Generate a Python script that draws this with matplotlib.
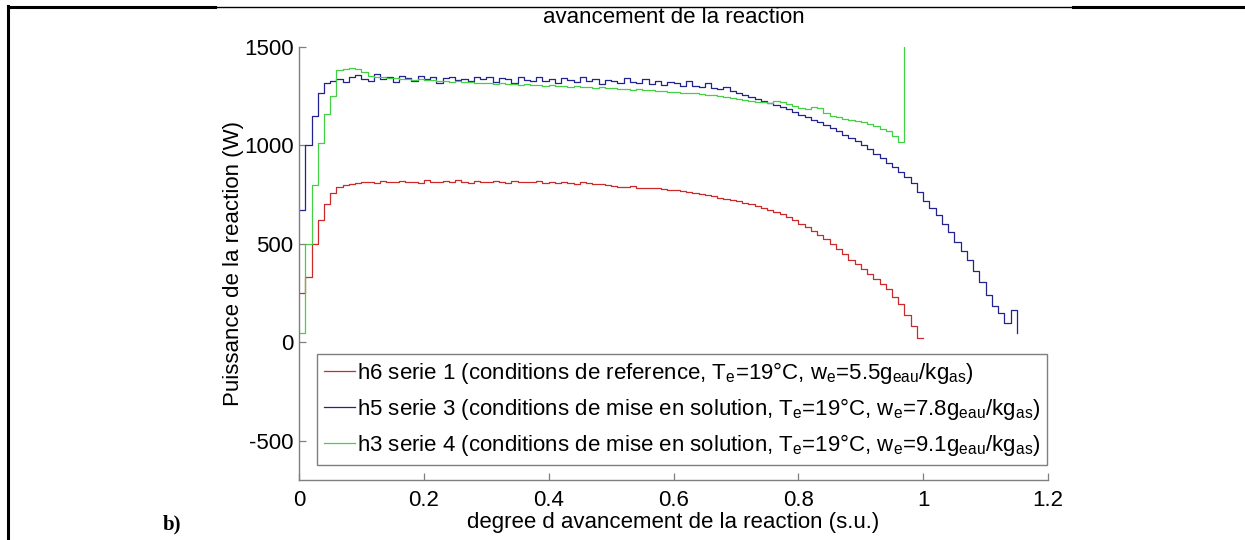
import numpy as np
import matplotlib
matplotlib.use("Agg")
import matplotlib.pyplot as plt
from matplotlib.lines import Line2D

plt.rcParams['font.family'] = ['Liberation Sans', 'DejaVu Sans']
plt.rcParams['mathtext.fontset'] = 'custom'
plt.rcParams['mathtext.rm'] = 'Liberation Sans'
plt.rcParams['mathtext.it'] = 'Liberation Sans'
plt.rcParams['mathtext.default'] = 'regular'
plt.rcParams['axes.unicode_minus'] = False

# sampling step of the advancement degree (s.u.)
step = 0.01

# h6 serie 1 - reference conditions
power_h6 = [250, 330, 500, 620, 700, 760, 788, 800, 805, 808,
            812, 815, 810, 818, 812, 815, 820, 813, 816, 810,
            822, 815, 812, 818, 816, 825, 814, 810, 818, 815,
            812, 820, 815, 810, 817, 812, 816, 812, 818, 810,
            814, 808, 815, 810, 806, 812, 808, 804, 806, 798,
            795, 790, 788, 792, 786, 786, 782, 784, 776, 774,
            772, 766, 764, 758, 754, 748, 742, 735, 728, 722,
            716, 708, 700, 694, 682, 672, 662, 650, 637, 620,
            602, 585, 565, 545, 525, 500, 475, 450, 420, 395,
            370, 345, 320, 295, 268, 232, 192, 140, 80, 24,
            24]

# h5 serie 3 - dissolution conditions, we = 7.8
power_h5 = [670, 1000, 1150, 1265, 1315, 1328, 1335, 1322, 1345, 1360,
            1338, 1325, 1362, 1335, 1348, 1320, 1355, 1340, 1328, 1352,
            1335, 1345, 1318, 1340, 1350, 1330, 1338, 1325, 1345, 1335,
            1348, 1322, 1340, 1335, 1318, 1345, 1330, 1325, 1350, 1328,
            1338, 1315, 1342, 1330, 1320, 1345, 1325, 1335, 1310, 1332,
            1328, 1318, 1340, 1320, 1315, 1335, 1312, 1325, 1305, 1320,
            1318, 1300, 1325, 1302, 1295, 1315, 1290, 1285, 1295, 1275,
            1268, 1258, 1248, 1236, 1225, 1214, 1206, 1196, 1185, 1170,
            1155, 1142, 1130, 1118, 1104, 1090, 1072, 1055, 1038, 1020,
            1000, 980, 958, 935, 912, 890, 865, 838, 808, 765,
            715, 680, 645, 600, 558, 510, 465, 418, 360, 305,
            240, 185, 150, 100, 165, 45]

# h3 serie 4 - dissolution conditions, we = 9.1
power_h3 = [46, 500, 800, 1010, 1160, 1250, 1385, 1390, 1392, 1388,
            1372, 1355, 1350, 1346, 1342, 1340, 1336, 1338, 1332, 1335,
            1330, 1332, 1326, 1328, 1322, 1325, 1320, 1322, 1318, 1316,
            1318, 1312, 1315, 1310, 1312, 1306, 1310, 1305, 1308, 1302,
            1305, 1300, 1302, 1298, 1300, 1295, 1298, 1292, 1295, 1290,
            1290, 1286, 1288, 1283, 1285, 1280, 1282, 1276, 1278, 1272,
            1270, 1268, 1265, 1266, 1260, 1258, 1255, 1250, 1246, 1242,
            1238, 1232, 1225, 1221, 1218, 1215, 1225, 1222, 1210, 1198,
            1190, 1185, 1195, 1188, 1165, 1150, 1142, 1135, 1130, 1124,
            1118, 1108, 1098, 1085, 1072, 1050, 1018, 1500]

labels = [
    r'h6 serie 1 (conditions de reference, T$_e$=19°C, w$_e$=5.5g$_{eau}$/kg$_{as}$)',
    r'h5 serie 3 (conditions de mise en solution, T$_e$=19°C, w$_e$=7.8g$_{eau}$/kg$_{as}$)',
    r'h3 serie 4 (conditions de mise en solution, T$_e$=19°C, w$_e$=9.1g$_{eau}$/kg$_{as}$)',
]
colors = ['#cc2a2a', '#23238f', '#44d044']

fig = plt.figure(figsize=(12.45, 5.4), dpi=100)
ax = fig.add_axes([0.2402, 0.1111, 0.6016, 0.8019])

for vals, lab, col in zip([power_h6, power_h5, power_h3], labels, colors):
    x = np.arange(len(vals)) * step
    ax.plot(x, vals, drawstyle='steps-post', color=col, lw=0.9, label=lab)

ax.set_xlim(0, 1.2)
ax.set_ylim(-700, 1500)
ax.set_xticks([0, 0.2, 0.4, 0.6, 0.8, 1.0, 1.2])
ax.set_xticklabels(['0', '0.2', '0.4', '0.6', '0.8', '1', '1.2'])
ax.set_yticks([-500, 0, 500, 1000, 1500])
for side in ['top', 'right']:
    ax.spines[side].set_visible(False)
for side in ['left', 'bottom']:
    ax.spines[side].set_color('#7f7f7f')
    ax.spines[side].set_linewidth(1.0)
ax.tick_params(direction='in', length=5, width=0.9, color='#7f7f7f',
               labelsize=16, pad=4)
ax.tick_params(axis='x', pad=7)

ax.set_title('avancement de la reaction', fontsize=16, pad=17)
ax.set_xlabel('degree d avancement de la reaction (s.u.)', fontsize=16, labelpad=1)
ax.set_ylabel('Puissance de la reaction (W)', fontsize=16, labelpad=0)

leg = ax.legend(loc='lower left', bbox_to_anchor=(0.024, 0.035), borderaxespad=0,
                fontsize=16, handlelength=1.4, handletextpad=0.1,
                labelspacing=0.45, borderpad=0.3, fancybox=False,
                framealpha=1, edgecolor='#7f7f7f')
leg.get_frame().set_linewidth(1.0)

# page borders around the figure cell
W, H = 1245.0, 540.0
fig.add_artist(Line2D([8 / W, 215 / W], [1 - 7 / H, 1 - 7 / H], color='black', lw=2.2))
fig.add_artist(Line2D([215 / W, 1073 / W], [1 - 6.5 / H, 1 - 6.5 / H], color='black', lw=1.0))
fig.add_artist(Line2D([1073 / W, 1], [1 - 7 / H, 1 - 7 / H], color='black', lw=2.2))
fig.add_artist(Line2D([8 / W, 8 / W], [0, 1 - 6 / H], color='black', lw=2.2))

fig.text(163 / W, 1 - 524 / H, 'b)', family='Liberation Serif', weight='bold',
         fontsize=15, va='center', ha='left')

fig.savefig('out.png', dpi=100)
